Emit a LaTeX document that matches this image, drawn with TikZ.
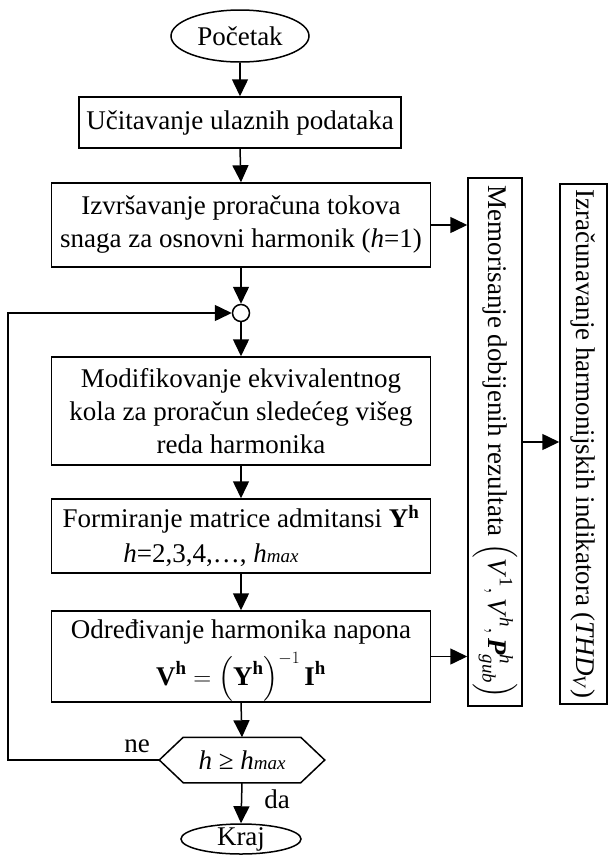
\documentclass[tikz,border=0pt]{standalone}
\usepackage{fontspec}
\usepackage{amsmath}
\setmainfont{Liberation Serif}
\usetikzlibrary{arrows.meta,shapes.geometric}
\begin{document}
\begin{tikzpicture}[x=1pt,y=-1pt,line width=1.5pt,
  txt/.style={font=\fontsize{27}{33}\selectfont},
  box/.style={draw,rectangle,align=center,inner sep=0pt,txt},
  term/.style={draw,ellipse,inner sep=-1pt,txt},
  arr/.style={-{Triangle[length=17pt,width=16pt]}}]
\useasboundingbox (0,0) rectangle (608,855);
% nodes
\node[term,minimum width=138pt,minimum height=52pt] (start) at (240,36) {Početak};
\node[box,minimum width=322pt,minimum height=51pt] (b1) at (240,122.5) {Učitavanje ulaznih podataka};
\node[box,minimum width=379pt,minimum height=84pt] (b2) at (241,225) {Izvršavanje proračuna tokova\\snaga za osnovni harmonik (\textit{h}=1)};
\node[draw,circle,minimum size=17pt,inner sep=0pt] (j) at (241,313) {};
\node[box,minimum width=379pt,minimum height=108pt] (b3) at (241,411) {Modifikovanje ekvivalentnog\\kola za proračun sledećeg višeg\\reda harmonika};
\node[box,minimum width=379pt,minimum height=74pt] (b4) at (241,536) {};
\node[txt,inner sep=0pt] (b4a) at (241,519) {Formiranje matrice admitansi \textbf{Y}\textsuperscript{\textbf{h}}};
\node[txt,inner sep=0pt] (b4b) at (211,555) {\textit{h}=2,3,4,…, \textit{h}{\fontsize{19}{19}\selectfont\textit{max}}};
\node[box,minimum width=379pt,minimum height=91pt] (b5) at (241,656.5) {};
\node[txt,inner sep=0pt] (b5a) at (241,632) {Određivanje harmonika napona};
\node[txt,inner sep=0pt] (b5b) at (241,677)
  {$\text{\textbf{V}}^{\text{\textbf{h}}}=\Bigl(\text{\textbf{Y}}^{\text{\textbf{h}}}\Bigr)^{-1}\,\text{\textbf{I}}^{\text{\textbf{h}}}$};
\node[txt,minimum width=164pt,minimum height=44pt,inner sep=0pt] (hex) at (242,760) {\textit{h} ≥ \textit{h}{\fontsize{19}{19}\selectfont\textit{max}}};
\draw (hex.west) -- ([xshift=24pt]hex.north west) -- ([xshift=-24pt]hex.north east) -- (hex.east)
  -- ([xshift=-24pt]hex.south east) -- ([xshift=24pt]hex.south west) -- cycle;
\node[term,minimum width=120pt,minimum height=30pt,inner sep=-3pt] (kraj) at (241,839) {Kraj};
\node[draw,inner sep=0pt,minimum width=54pt,minimum height=528pt,txt] (mem) at (495,442)
  {\rotatebox{-90}{Memorisanje dobijenih rezultata $\Bigl(\text{\textit{V}}^{\text{1}},\text{\textit{V}}^{\text{\textit{h}}},\text{\textbf{\textit{P}}}^{\text{\textit{h}}}_{\text{\textit{gub}}}\Bigr)$}};
\node[draw,inner sep=0pt,minimum width=47pt,minimum height=520pt,txt] (izr) at (583.5,444)
  {\rotatebox{-90}{Izračunavanje harmonijskih indikatora (\textit{THD}\textsubscript{\textit{V}})}};
\node[txt,anchor=base] (ne) at (137,752) {ne};
\node[txt,anchor=base] (da) at (277,808) {da};
\coordinate (lb) at (8,760);
% connectors
\draw[arr] (start.south) -- (b1.north);
\draw[arr] (b1.south) -- (b2.north);
\draw[arr] (b2.south) -- (j.north);
\draw[arr] (j.south) -- (b3.north);
\draw[arr] (b3.south) -- (b4.north);
\draw[arr] (b4.south) -- (b5.north);
\draw[arr] (b5.south) -- (hex.north);
\draw[arr] (hex.south) -- (kraj.north);
\draw[arr] (b2.east) -- (b2.east -| mem.west);
\draw[arr] (b5.east) -- (b5.east -| mem.west);
\draw[arr] (mem.east) -- (mem.east -| izr.west);
\draw[arr] (hex.west) -- (lb) |- (j.west);
\end{tikzpicture}
\end{document}
